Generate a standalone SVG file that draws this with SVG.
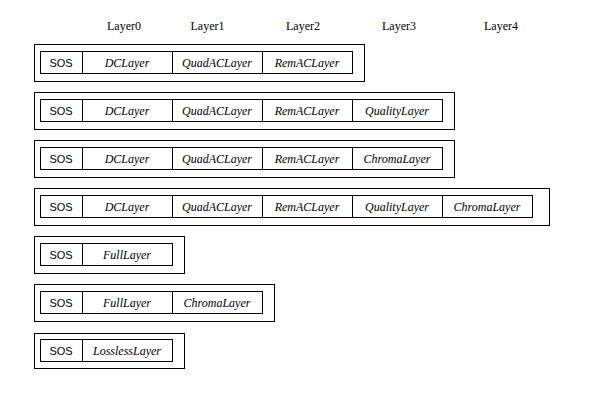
<svg xmlns="http://www.w3.org/2000/svg" width="596" height="400" viewBox="0 0 596 400">
<style>
.bg{fill:#fff}
.box{fill:none;stroke:#000;stroke-width:1}
.hdr{font-family:"Liberation Serif",serif;font-size:12px;text-anchor:middle;fill:#000}
.sos{font-family:"Liberation Sans",Arial,sans-serif;font-size:11px;text-anchor:middle;fill:#000}
.lay{font-family:"Liberation Serif",serif;font-style:italic;font-size:12px;text-anchor:middle;fill:#000}
</style>
<rect class="bg" x="0" y="0" width="596" height="400"/>
<g id="headers">
<text class="hdr" x="124" y="30">Layer0</text>
<text class="hdr" x="207.5" y="30">Layer1</text>
<text class="hdr" x="303" y="30">Layer2</text>
<text class="hdr" x="399" y="30">Layer3</text>
<text class="hdr" x="501" y="30">Layer4</text>
</g>
<g id="connectors"></g>
<g id="row1" transform="translate(0,0)">
<rect class="box" x="34.5" y="44.5" width="330" height="37"/>
<rect class="box" x="40.5" y="51.5" width="312" height="22"/>
<path class="box" d="M82.5 51.5V73.5M172.5 51.5V73.5M262.5 51.5V73.5"/>
<text class="sos" x="61" y="66.5">SOS</text>
<text class="lay" x="127" y="66.5">DCLayer</text>
<text class="lay" x="217" y="66.5">QuadACLayer</text>
<text class="lay" x="307" y="66.5">RemACLayer</text>
</g>
<g id="row2" transform="translate(0,48)">
<rect class="box" x="34.5" y="44.5" width="420" height="37"/>
<rect class="box" x="40.5" y="51.5" width="402" height="22"/>
<path class="box" d="M82.5 51.5V73.5M172.5 51.5V73.5M262.5 51.5V73.5M352.5 51.5V73.5"/>
<text class="sos" x="61" y="66.5">SOS</text>
<text class="lay" x="127" y="66.5">DCLayer</text>
<text class="lay" x="217" y="66.5">QuadACLayer</text>
<text class="lay" x="307" y="66.5">RemACLayer</text>
<text class="lay" x="397" y="66.5">QualityLayer</text>
</g>
<g id="row3" transform="translate(0,96)">
<rect class="box" x="34.5" y="44.5" width="420" height="37"/>
<rect class="box" x="40.5" y="51.5" width="402" height="22"/>
<path class="box" d="M82.5 51.5V73.5M172.5 51.5V73.5M262.5 51.5V73.5M352.5 51.5V73.5"/>
<text class="sos" x="61" y="66.5">SOS</text>
<text class="lay" x="127" y="66.5">DCLayer</text>
<text class="lay" x="217" y="66.5">QuadACLayer</text>
<text class="lay" x="307" y="66.5">RemACLayer</text>
<text class="lay" x="397" y="66.5">ChromaLayer</text>
</g>
<g id="row4" transform="translate(0,144)">
<rect class="box" x="34.5" y="44.5" width="515" height="37"/>
<rect class="box" x="40.5" y="51.5" width="492" height="22"/>
<path class="box" d="M82.5 51.5V73.5M172.5 51.5V73.5M262.5 51.5V73.5M352.5 51.5V73.5M442.5 51.5V73.5"/>
<text class="sos" x="61" y="66.5">SOS</text>
<text class="lay" x="127" y="66.5">DCLayer</text>
<text class="lay" x="217" y="66.5">QuadACLayer</text>
<text class="lay" x="307" y="66.5">RemACLayer</text>
<text class="lay" x="397" y="66.5">QualityLayer</text>
<text class="lay" x="487" y="66.5">ChromaLayer</text>
</g>
<g id="row5" transform="translate(0,192)">
<rect class="box" x="34.5" y="44.5" width="150" height="37"/>
<rect class="box" x="40.5" y="51.5" width="132" height="22"/>
<path class="box" d="M82.5 51.5V73.5"/>
<text class="sos" x="61" y="66.5">SOS</text>
<text class="lay" x="127" y="66.5">FullLayer</text>
</g>
<g id="row6" transform="translate(0,240)">
<rect class="box" x="34.5" y="44.5" width="240" height="37"/>
<rect class="box" x="40.5" y="51.5" width="222" height="22"/>
<path class="box" d="M82.5 51.5V73.5M172.5 51.5V73.5"/>
<text class="sos" x="61" y="66.5">SOS</text>
<text class="lay" x="127" y="66.5">FullLayer</text>
<text class="lay" x="217" y="66.5">ChromaLayer</text>
</g>
<g id="row7" transform="translate(0,289)">
<rect class="box" x="34.5" y="44.5" width="150" height="35"/>
<rect class="box" x="40.5" y="50.5" width="132" height="22"/>
<path class="box" d="M82.5 50.5V72.5"/>
<text class="sos" x="61" y="65.5">SOS</text>
<text class="lay" x="127" y="65.5">LosslessLayer</text>
</g>
</svg>
